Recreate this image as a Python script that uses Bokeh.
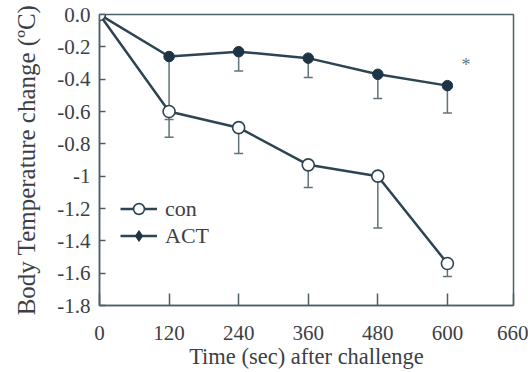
import json

from bokeh.plotting import figure
from bokeh.models import (ColumnDataSource, Whisker, TeeHead, FixedTicker, Range1d,
                          Legend, LegendItem, Label, CustomJSTickFormatter)
from bokeh.embed import file_html
from bokeh.resources import INLINE

# Sampling times (seconds after challenge)
time_sec = [0, 120, 240, 360, 480, 600]

# Mean body temperature change (degC) and error (lower bar only)
con_mean = [0.0, -0.60, -0.70, -0.93, -1.00, -1.54]
con_err = [0.0, 0.16, 0.16, 0.14, 0.32, 0.08]
act_mean = [0.0, -0.26, -0.23, -0.27, -0.37, -0.44]
act_err = [0.0, 0.39, 0.12, 0.12, 0.15, 0.17]

# Axis ticks and their printed labels
x_ticks = [0, 120, 240, 360, 480, 600, 714]
x_tick_labels = ["0", "120", "240", "360", "480", "600", "660"]
y_ticks = [0.0, -0.2, -0.4, -0.6, -0.8, -1.0, -1.2, -1.4, -1.6, -1.8]
y_tick_labels = ["0.0", "-0.2", "-0.4", "-0.6", "-0.8", "-1", "-1.2", "-1.4", "-1.6", "-1.8"]

FONT = "Liberation Serif"
TEXT = "#3c4044"
AXIS = "#4d5f66"
LINE = "#2d4452"
DOT = "#1d3346"
BAR = "#5f7379"


def label_formatter(ticks, labels):
    """Tick formatter that prints a fixed label for each tick value."""
    table = {f"{t:.1f}": s for t, s in zip(ticks, labels)}
    return CustomJSTickFormatter(
        args=dict(table=json.dumps(table)),
        code="const m = JSON.parse(table); const k = tick.toFixed(1);"
             " return (k in m) ? m[k] : String(tick);")


p = figure(width=528, height=372, x_range=Range1d(0, 714), y_range=Range1d(-1.8, 0),
           output_backend="svg", toolbar_location=None,
           min_border_left=99, min_border_right=15, min_border_top=14, min_border_bottom=67)
p.xgrid.visible = False
p.ygrid.visible = False
p.outline_line_color = AXIS
p.outline_line_width = 1.5
p.background_fill_color = "white"
p.border_fill_color = "white"

# Axes
p.xaxis.ticker = FixedTicker(ticks=x_ticks)
p.xaxis.formatter = label_formatter(x_ticks, x_tick_labels)
p.yaxis.ticker = FixedTicker(ticks=y_ticks)
p.yaxis.formatter = label_formatter(y_ticks, y_tick_labels)
for ax in (p.xaxis[0], p.yaxis[0]):
    ax.axis_line_color = AXIS
    ax.axis_line_width = 1.5
    ax.major_tick_line_color = AXIS
    ax.major_tick_line_width = 1.5
    ax.major_tick_out = 0
    ax.minor_tick_line_color = None
    ax.major_label_text_font = FONT
    ax.major_label_text_font_size = "21px"
    ax.major_label_text_color = TEXT
    ax.axis_label_text_font = FONT
    ax.axis_label_text_font_style = "normal"
    ax.axis_label_text_color = TEXT
p.xaxis.major_tick_in = 12
p.yaxis.major_tick_in = 6
p.xaxis.major_label_standoff = 20
p.yaxis.major_label_standoff = 9
p.xaxis.axis_label = "Time (sec) after challenge"
p.xaxis.axis_label_text_font_size = "22.5px"
p.xaxis.axis_label_standoff = 1
p.yaxis.axis_label = "Body Temperature change (\u00baC)"
p.yaxis.axis_label_text_font_size = "25px"
p.yaxis.axis_label_standoff = 14


# Lower error bars (skip the baseline point)
def bars(means, errs):
    idx = [i for i, e in enumerate(errs) if e > 0]
    src = ColumnDataSource(dict(
        x=[time_sec[i] for i in idx],
        upper=[means[i] for i in idx],
        lower=[means[i] - errs[i] for i in idx],
    ))
    w = Whisker(source=src, base="x", upper="upper", lower="lower", dimension="height",
                upper_head=None,
                lower_head=TeeHead(size=9, line_color=BAR, line_width=1.5),
                line_color=BAR, line_width=1.5)
    p.add_layout(w)


bars(act_mean, act_err)
bars(con_mean, con_err)

act_src = ColumnDataSource(dict(t=time_sec, y=act_mean))
con_src = ColumnDataSource(dict(t=time_sec, y=con_mean))

act_line = p.line("t", "y", source=act_src, line_color=LINE, line_width=2.5)
con_line = p.line("t", "y", source=con_src, line_color=LINE, line_width=2.5)
act_pts = p.scatter("t", "y", source=act_src, marker="circle", size=10.5,
                    fill_color=DOT, line_color=DOT)
con_pts = p.scatter("t", "y", source=con_src, marker="circle", size=12,
                    fill_color="white", line_color=LINE, line_width=1.6)

# Diamond key for ACT, shown only in the legend
act_key = p.scatter("t", "y", source=act_src, marker="diamond", size=13,
                    fill_color=DOT, line_color=DOT, visible=False)

legend = Legend(items=[LegendItem(label="con", renderers=[con_line, con_pts]),
                       LegendItem(label="ACT", renderers=[act_line, act_key])],
                location=(21, 56), padding=0, margin=0, spacing=0,
                glyph_width=37, glyph_height=27, label_height=27, label_standoff=8,
                border_line_color=None, background_fill_alpha=0,
                label_text_font=FONT, label_text_font_size="22px", label_text_color=TEXT)
p.add_layout(legend)

# Significance marker next to the last ACT point
sig_x, sig_y = 632, -0.31
p.add_layout(Label(x=sig_x, y=sig_y, text="*", text_font=FONT, text_font_size="18px",
                   text_color="#6a777c", text_align="center", text_baseline="middle"))

open("out.html", "w").write(file_html(p, INLINE))
